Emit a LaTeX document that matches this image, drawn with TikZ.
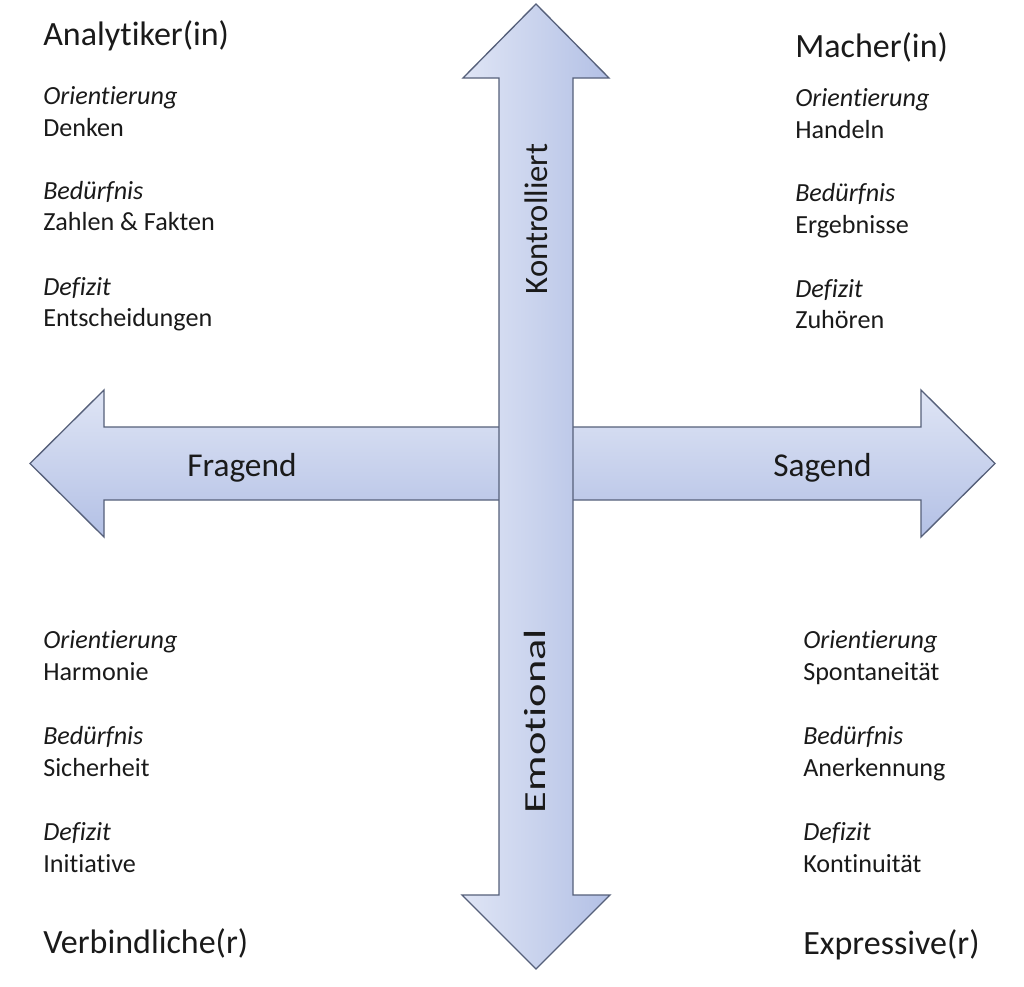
\documentclass[tikz,border=0pt]{standalone}
\usepackage{fontspec}
\setmainfont{Carlito}[Ligatures=NoCommon]
\usetikzlibrary{positioning}

\definecolor{arrowedge}{HTML}{56607A}
\definecolor{arrowlight}{HTML}{DFE5F5}
\definecolor{arrowdark}{HTML}{B3C0E5}
\definecolor{ink}{HTML}{1A1A1A}

\tikzset{
  typetitle/.style={anchor=base west, inner sep=0pt, text=ink, font=\fontsize{25.5}{30}\selectfont},
  facet/.style={anchor=base west, inner sep=0pt, text=ink, font=\fontsize{19.6}{23}\selectfont\itshape},
  trait/.style={anchor=base west, inner sep=0pt, text=ink, font=\fontsize{19.6}{23}\selectfont},
  axislabel/.style={inner sep=0pt, text=ink, font=\fontsize{25}{30}\selectfont},
  axisarrow/.style={draw=arrowedge, line width=1pt, line join=miter},
}

\begin{document}
\begin{tikzpicture}[x=0.75pt, y=-0.75pt]
\useasboundingbox[fill=white] (0,0) rectangle (1024,986);

% horizontale Achse
\draw[axisarrow, top color=arrowlight, bottom color=arrowdark]
  (30,463.5) -- (104,390) -- (104,427) -- (921,427) -- (921,390) -- (995,463.5)
  -- (921,537) -- (921,500) -- (104,500) -- (104,537) -- cycle;
% vertikale Achse
\draw[axisarrow, left color=arrowlight, right color=arrowdark]
  (536,4) -- (609,78) -- (573,78) -- (573,895) -- (610,895) -- (536,969)
  -- (462,895) -- (499,895) -- (499,78) -- (463,78) -- cycle;

\node[axislabel, anchor=base west] (fragend) at (187,476) {Fragend};
\node[axislabel, anchor=base west] (sagend) at (773,476) {Sagend};
\node[axislabel, rotate=90, font=\fontsize{24.5}{29}\selectfont] (kontrolliert) at (536,219) {Kontrolliert};
\node[axislabel, rotate=90, xscale=1.45, font=\fontsize{23}{28}\selectfont] (emotional) at (535,721) {Emotional};

% Analytiker(in)
\node[typetitle] (analytiker) at (43,45) {Analytiker(in)};
\node[facet] (ana-o) at (43,104) {Orientierung};
\node[trait] (ana-o-v) at (43,136) {Denken};
\node[facet] (ana-b) at (43,199) {Bedürfnis};
\node[trait] (ana-b-v) at (43,230) {Zahlen \& Fakten};
\node[facet] (ana-d) at (43,295) {Defizit};
\node[trait] (ana-d-v) at (43,326) {Entscheidungen};

% Macher(in)
\node[typetitle] (macher) at (795,57) {Macher(in)};
\node[facet] (mac-o) at (795,106) {Orientierung};
\node[trait] (mac-o-v) at (795,138) {Handeln};
\node[facet] (mac-b) at (795,201) {Bedürfnis};
\node[trait] (mac-b-v) at (795,233) {Ergebnisse};
\node[facet] (mac-d) at (795,297) {Defizit};
\node[trait] (mac-d-v) at (795,328) {Zuhören};

% Verbindliche(r)
\node[facet] (ver-o) at (43,648) {Orientierung};
\node[trait] (ver-o-v) at (43,680) {Harmonie};
\node[facet] (ver-b) at (43,744) {Bedürfnis};
\node[trait] (ver-b-v) at (43,776) {Sicherheit};
\node[facet] (ver-d) at (43,840) {Defizit};
\node[trait] (ver-d-v) at (43,872) {Initiative};
\node[typetitle] (verbindliche) at (43,953) {Verbindliche(r)};

% Expressive(r)
\node[facet] (exp-o) at (803,648) {Orientierung};
\node[trait] (exp-o-v) at (803,680) {Spontaneität};
\node[facet] (exp-b) at (803,744) {Bedürfnis};
\node[trait] (exp-b-v) at (803,776) {Anerkennung};
\node[facet] (exp-d) at (803,840) {Defizit};
\node[trait] (exp-d-v) at (803,872) {Kontinuität};
\node[typetitle] (expressive) at (803,954) {Expressive(r)};
\end{tikzpicture}
\end{document}
